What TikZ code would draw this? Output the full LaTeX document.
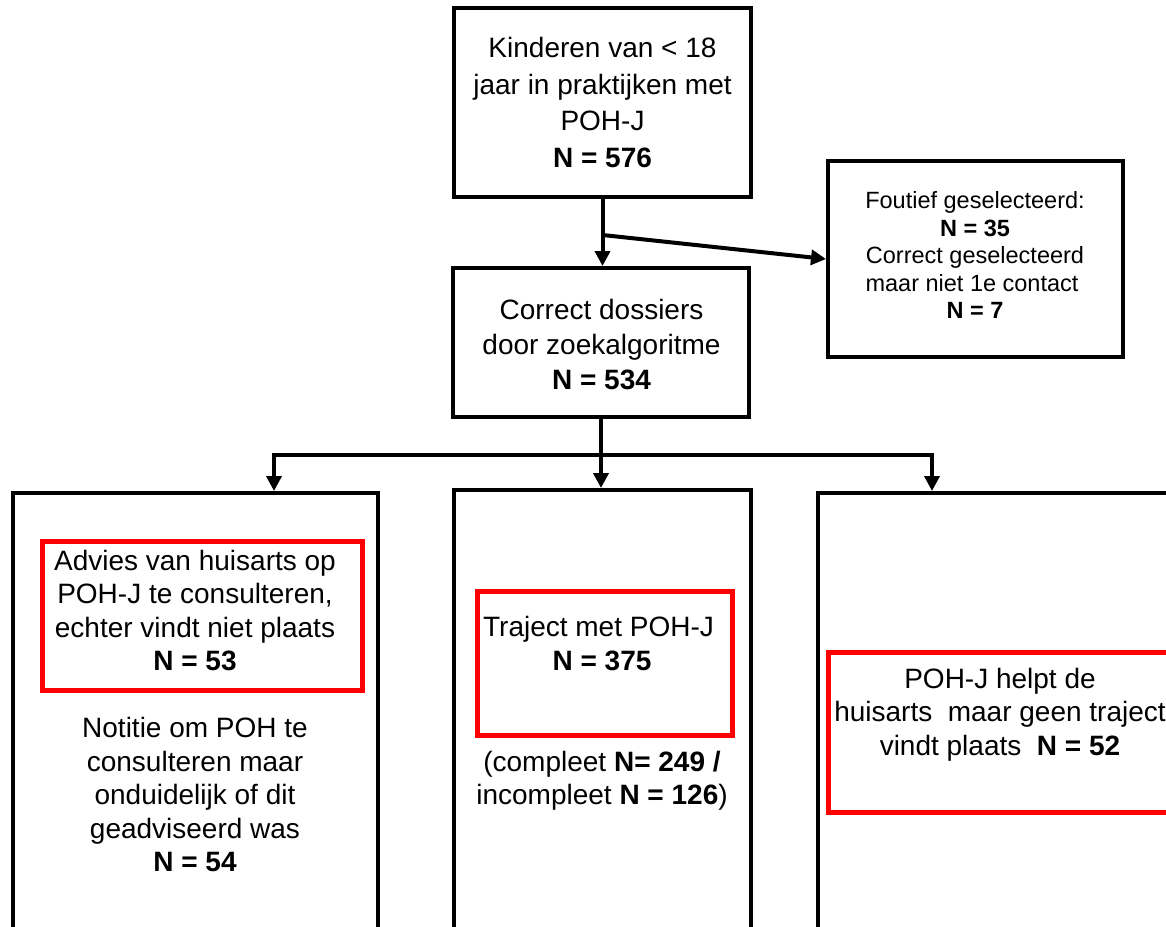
\documentclass[tikz,border=0pt]{standalone}
\usepackage{fontspec}
\setmainfont{Liberation Sans}
\usetikzlibrary{arrows.meta}
\tikzset{
  box/.style={draw=black, line width=4pt, inner sep=0pt, fill=none},
  redbox/.style={draw=red, line width=5pt, inner sep=0pt},
  txt/.style={align=center, inner sep=0pt, font=\fontsize{28}{33.5}\selectfont},
  smalltxt/.style={align=center, inner sep=0pt, font=\fontsize{23.5}{27.5}\selectfont},
  conn/.style={line width=4pt, -{Triangle[length=15pt,width=15pt]}},
  hline/.style={line width=3.5pt, -{Triangle[length=15pt,width=15pt]}}
}
\begin{document}
\begin{tikzpicture}[x=1pt,y=-1pt]
\useasboundingbox (0,0) rectangle (1166,926);
\clip (0,0) rectangle (1166,926);
\fill[white] (0,0) rectangle (1166,926);

% boxes
\node[box, minimum width=297pt, minimum height=189pt] (top) at (602.5,102.5) {};
\node[box, minimum width=296pt, minimum height=149pt] (mid) at (601,342.5) {};
\node[box, minimum width=295pt, minimum height=196pt] (side) at (975.5,259) {};
\node[box, minimum width=365pt, minimum height=467pt] (leftbot) at (195.5,726.5) {};
\node[box, minimum width=297pt, minimum height=470pt] (midbot) at (602.5,725) {};
\node[box, minimum width=432pt, minimum height=467pt] (rightbot) at (1034,726.5) {};
\node[redbox, minimum width=320pt, minimum height=149pt] (leftred) at (202,615.5) {};
\node[redbox, minimum width=255pt, minimum height=144pt] (midred) at (604.5,663) {};
\node[redbox, minimum width=422pt, minimum height=160pt] (rightred) at (1039,732) {};

% texts
\node[txt, font=\fontsize{28}{36.5}\selectfont] (t-top) at (602.5,102.3) {Kinderen van < 18\\jaar in praktijken met\\POH-J\\\textbf{N = 576}};
\node[txt, font=\fontsize{28}{35}\selectfont] (t-mid) at (601.5,344.8) {Correct dossiers\\door zoekalgoritme\\\textbf{N = 534}};
\node[smalltxt] (t-side) at (975,255.4) {Foutief geselecteerd:\\\textbf{N = 35}\\Correct geselecteerd\\maar niet 1e contact\kern6pt\\\textbf{N = 7}};
\node[txt] (t-leftred) at (195,610.5) {Advies van huisarts op\\POH-J te consulteren,\\echter vindt niet plaats\\\textbf{N = 53}};
\node[txt] (t-leftnote) at (195,794.8) {Notitie om POH te\\consulteren maar\\onduidelijk of dit\\geadviseerd was\\\textbf{N = 54}};
\node[txt] (t-midred) at (602,643.5) {Traject met POH-J\kern7pt\\\textbf{N = 375}};
\node[txt] (t-midnote) at (602,780.5) {(compleet \textbf{N= 249 /}\\incompleet \textbf{N = 126})};
\node[txt] (t-rightred) at (1000,714.3) {POH-J helpt de\\huisarts\ \ maar geen traject\\vindt plaats\ \ \textbf{N = 52}};

% connectors
\coordinate (br) at (602.5,235);
\coordinate (hl) at (274,455);
\coordinate (hr) at (932,455);
\draw[conn] (top.south) -- (top.south |- mid.north);
\draw[conn] (br) -- (side.west);
\draw[conn] (mid.south) -- (mid.south |- midbot.north);
\draw[hline] (mid.south |- hl) -| (hl |- leftbot.north);
\draw[hline] (mid.south |- hr) -| (hr |- rightbot.north);
\end{tikzpicture}
\end{document}
